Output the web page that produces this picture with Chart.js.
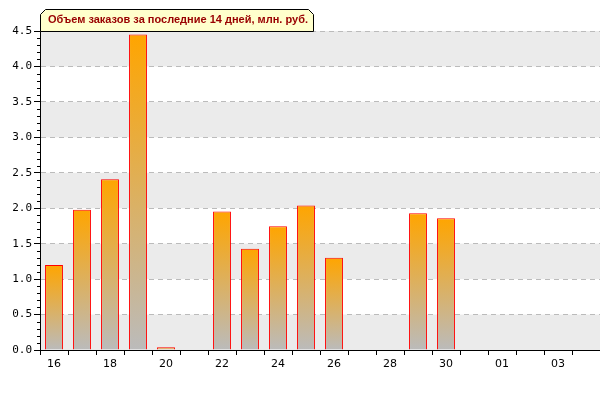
<!DOCTYPE html>
<html>
<head>
<meta charset="utf-8">
<script src="https://cdn.jsdelivr.net/npm/chart.js@4/dist/chart.umd.min.js"></script>
<style>
    body { margin: 0; background: #fff; }
    #chart_1 { display: block; }
</style>
</head>
<body>
<canvas id="chart_1" width="600" height="400"></canvas>
<script>
// days shown on the x axis (16th of the month .. 4th of the next one)
var days = ["16", "17", "18", "19", "20", "21", "22", "23", "24", "25",
    "26", "27", "28", "29", "30", "31", "01", "02", "03", "04"];
// order volume, mln rub
var orders = [1.20, 1.98, 2.41, 4.45, 0.04, null, 1.955, 1.43, 1.745, 2.04,
    1.30, null, null, 1.93, 1.86, null, null, null, null, null];
var chartTitle = "Объем заказов за последние 14 дней, млн. руб.";
var yMax = 4.5;

/*****plot background bands, title box and minor ticks*****/
var decorPlugin = {
    id: 'decor',
    beforeDraw: function (chart) {
        var c = chart.ctx, a = chart.chartArea, y = chart.scales.y;
        c.save();
        c.fillStyle = '#fff';
        c.fillRect(0, 0, chart.width, chart.height);
        c.fillStyle = '#ebebeb';
        for (var v = 0; v < yMax; v += 1) {
            var top = y.getPixelForValue(Math.min(v + 0.5, yMax));
            var bot = y.getPixelForValue(v);
            c.fillRect(a.left, top, a.right - a.left, bot - top);
        }
        c.restore();
    },
    afterDraw: function (chart) {
        var c = chart.ctx, a = chart.chartArea, y = chart.scales.y;
        c.save();
        // minor ticks every 0.1
        c.strokeStyle = '#000';
        c.lineWidth = 1;
        c.beginPath();
        for (var i = 1; i < yMax * 10; i++) {
            if (i % 5 === 0) continue;
            var py = Math.round(y.getPixelForValue(i / 10)) + 0.5;
            c.moveTo(a.left - 3, py);
            c.lineTo(a.left, py);
        }
        c.stroke();

        // title box
        var x0 = a.left + 0.5, x1 = 313.5, y0 = 9.5, y1 = a.top + 0.5;
        c.beginPath();
        c.moveTo(x0, y1);
        c.lineTo(x0, y0 + 5);
        c.lineTo(x0 + 5, y0);
        c.lineTo(x1 - 5, y0);
        c.lineTo(x1, y0 + 5);
        c.lineTo(x1, y1);
        c.closePath();
        c.fillStyle = '#ffffcc';
        c.fill();
        c.strokeStyle = '#000';
        c.stroke();
        c.fillStyle = '#990000';
        c.font = 'bold 11px "Liberation Sans", Arial, sans-serif';
        c.textBaseline = 'middle';
        c.fillText(chartTitle, 48, 20);
        c.restore();
    }
};

var ready = function () {
    var ctx1 = document.getElementById("chart_1").getContext("2d");
    var data1 = {
        labels: days,
        datasets: [
            {
                data: orders,
                borderColor: "#ff0000",
                borderWidth: 1,
                barPercentage: 0.64,
                categoryPercentage: 1,
                backgroundColor: function (context) {
                    var chart = context.chart;
                    var v = context.raw;
                    if (!chart.chartArea || context.type !== 'data' || v == null || !isFinite(v)) {
                        return "#ffa500";
                    }
                    var y = chart.scales.y;
                    var top = y.getPixelForValue(v);
                    var base = y.getPixelForValue(0);
                    if (!isFinite(top) || !isFinite(base)) {
                        return "#ffa500";
                    }
                    var g = chart.ctx.createLinearGradient(0, top, 0, base);
                    g.addColorStop(0, "#ffa500");
                    g.addColorStop(1, "#bbbbbb");
                    return g;
                }
            }]
    };

    new Chart(ctx1, {
        type: 'bar',
        data: data1,
        plugins: [decorPlugin],
        options: {
            animation: false,
            responsive: false,
            layout: {
                padding: { top: 31, left: 0, right: 0, bottom: 0 }
            },
            plugins: {
                legend: { display: false },
                title: { display: false },
                tooltip: { enabled: false }
            },
            scales: {
                x: {
                    offset: true,
                    afterFit: function (scale) { scale.height = 50; },
                    grid: {
                        offset: true,
                        drawOnChartArea: false,
                        tickLength: 5,
                        tickColor: '#000'
                    },
                    border: { color: '#000', width: 1 },
                    ticks: {
                        autoSkip: false,
                        maxRotation: 0,
                        padding: 3,
                        color: '#000',
                        font: { family: '"DejaVu Sans", sans-serif', size: 11 },
                        callback: function (val, idx) {
                            return idx % 2 === 0 ? days[idx] : '';
                        }
                    }
                },
                y: {
                    min: 0,
                    max: yMax,
                    afterFit: function (scale) { scale.width = 40; },
                    grid: {
                        color: '#bbbbbb',
                        tickColor: '#000',
                        tickLength: 6
                    },
                    border: { color: '#000', width: 1, dash: [5, 4] },
                    ticks: {
                        stepSize: 0.5,
                        padding: 2,
                        color: '#000',
                        font: { family: '"DejaVu Sans Mono", monospace', size: 11 },
                        callback: function (val) { return val.toFixed(1); }
                    }
                }
            }
        }
    });
};
ready();
</script>
</body>
</html>
